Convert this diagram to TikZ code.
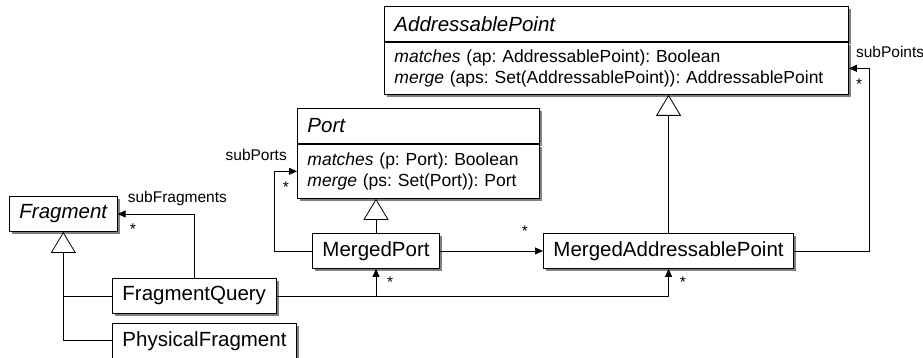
\documentclass[tikz,border=0pt]{standalone}
\usepackage{fontspec}
\setmainfont{Liberation Sans}
\usetikzlibrary{arrows.meta,positioning,shadows}
\frenchspacing

\begin{document}
\begin{tikzpicture}[x=1pt,y=-1pt,
    cls/.style={draw,fill=white,line width=0.9pt,anchor=north west,minimum height=35pt,inner xsep=10pt,inner ysep=0pt,
      drop shadow={shadow xshift=2.5pt,shadow yshift=-2.5pt,fill=black!50,opacity=1},font=\fontsize{20.5}{24}\selectfont},
    abs/.style={cls,font=\fontsize{20.5}{24}\selectfont\itshape},
    hdr/.style={abs,text width=#1,align=left},
    ops/.style={cls,text width=#1,align=left,font=\fontsize{17.5}{21}\selectfont},
    role/.style={inner sep=0pt,font=\fontsize{15.5}{18}\selectfont},
    assoc/.style={-{Triangle[length=8pt,width=7pt]},line width=0.8pt},
    gen/.style={-{Triangle[open,length=21pt,width=25pt,fill=white]},line width=0.8pt}
  ]
    \useasboundingbox (0,0) rectangle (923,358);
    \node[hdr=444pt] (ap) at (384,6) {AddressablePoint};
    \node[ops=444pt,below right=0pt and 0pt of ap.south west,minimum height=52pt] (apops)
      {\textit{matches} (ap: AddressablePoint): Boolean\\\textit{merge} (aps: Set(AddressablePoint)): AddressablePoint};
    \node[hdr=222pt] (port) at (297,108) {Port};
    \node[ops=222pt,below right=0pt and 0pt of port.south west,minimum height=54pt] (portops)
      {\textit{matches} (p: Port): Boolean\\\textit{merge} (ps: Set(Port)): Port};
    \node[abs] (frag) at (9,196) {Fragment};
    \node[cls] (mp) at (312,233) {MergedPort};
    \node[cls] (map) at (543,233) {MergedAddressablePoint};
    \node[cls] (fq) at (112,278) {FragmentQuery};
    \node[cls,below right=9pt and 0pt of fq.south west] (pf) {PhysicalFragment};

    \draw[gen] (pf.west) -| (frag.south);
    \draw[line width=0.8pt] (fq.west) -- (fq.west -| frag.south);
    \draw[gen] (mp.north) -- (mp.north |- portops.south);
    \draw[gen] (map.north) -- (map.north |- apops.south);
    \draw[assoc] (fq.north) |- (frag.east);
    \draw[assoc] (mp.west) -- ++(-38pt,0) |- (portops.west);
    \draw[assoc] (map.east) -- ++(75pt,0) |- (apops.east);
    \draw[assoc] (mp.east) -- (map.west);
    \draw[assoc] (fq.east) -| (mp.south);
    \draw[assoc] (fq.east) -| (map.south);

    \node[role,above right=8pt and 10pt of frag.east] (rfrag) {subFragments};
    \node[role,below right=10pt and 12pt of frag.east] (mfrag) {*};
    \node[role,above left=10pt and 10pt of portops.west] (rport) {subPorts};
    \node[role,below left=10pt and 8pt of portops.west] (mport) {*};
    \node[role,above right=10pt and 7pt of apops.east] (rap) {subPoints};
    \node[role,below right=10pt and 7pt of apops.east] (map1) {*};
    \node[role,above left=14pt and 15pt of map.west] (mmap) {*};
    \node[role,below right=8pt and 11pt of mp.south] (mfq1) {*};
    \node[role,below right=8pt and 11pt of map.south] (mfq2) {*};
  \end{tikzpicture}
\end{document}
